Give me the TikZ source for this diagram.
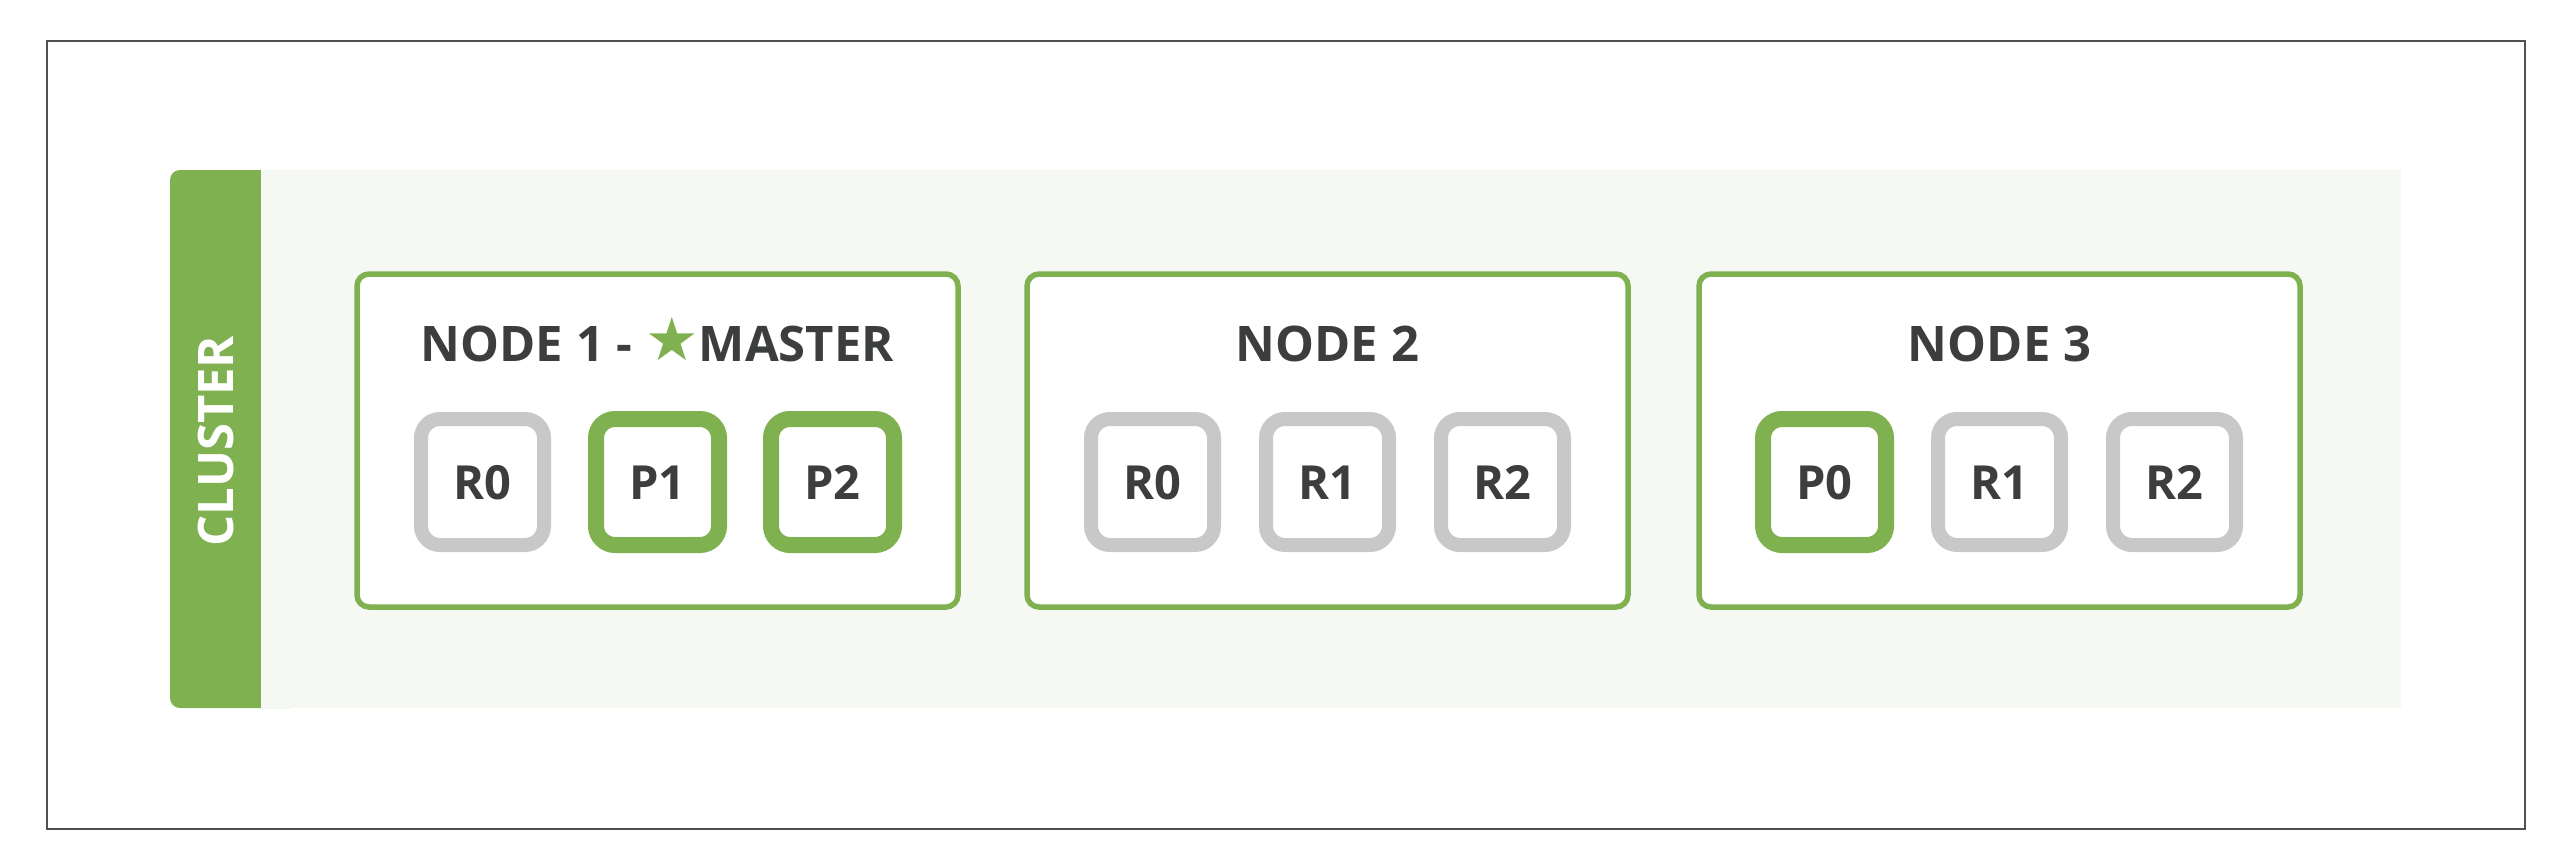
\documentclass[tikz,border=0pt]{standalone}
\usepackage{fontspec}
\setmainfont{Open Sans}
\newfontfamily\symfont{DejaVu Sans}
\definecolor{esgreen}{HTML}{7FB151}
\definecolor{esgray}{HTML}{C8C8C8}
\definecolor{estext}{HTML}{3B3D3E}
\definecolor{esbg}{HTML}{F6F8F3}
\definecolor{frameline}{HTML}{505050}
\begin{document}
\begin{tikzpicture}[x=1pt,y=-1pt,
  nodebox/.style={draw=esgreen, line width=5.5pt, rounded corners=12pt, fill=white,
    minimum width=601pt, minimum height=333pt, inner sep=0pt},
  titletext/.style={text=estext, font=\fontsize{49}{58}\bfseries, anchor=base, inner sep=0pt},
  shard/.style={fill=white, rounded corners=19pt, minimum width=123pt, minimum height=126pt,
    inner sep=0pt, text height=35pt, text depth=0pt, text=estext, font=\fontsize{47}{54}\bfseries},
  primary/.style={shard, draw=esgreen, line width=16pt},
  replica/.style={shard, draw=esgray, line width=14pt},
]
\useasboundingbox (0,0) rectangle (2558,848);
\fill[white] (0,0) rectangle (2558,848);
\draw[frameline, line width=2pt] (47,41) rectangle (2525,829);

% cluster area
\fill[esgreen, rounded corners=10pt] (170,170) rectangle (300,708);
\fill[esbg] (261,170) rectangle (2401,708);
\node[rotate=90, text=white, font=\fontsize{49}{58}\bfseries, inner sep=0pt] (cluster) at (216,441) {CLUSTER};

% nodes
\node[nodebox] (n1) at (657.5,440.5) {};
\node[nodebox] (n2) at (1327.5,440.5) {};
\node[nodebox] (n3) at (1999.5,440.5) {};

\node[titletext] (t1) at (657.5,361) {NODE 1 - {\symfont\color{esgreen}\raisebox{1pt}{\scalebox{1.22}{★}}}MASTER};
\node[titletext] (t2) at (1327.5,361) {NODE 2};
\node[titletext] (t3) at (1999.5,361) {NODE 3};

% shards node 1
\node[replica] (n1r0) at (482.5,482) {R0};
\node[primary] (n1p1) at (657.5,482) {P1};
\node[primary] (n1p2) at (832.5,482) {P2};
% shards node 2
\node[replica] (n2r0) at (1152.5,482) {R0};
\node[replica] (n2r1) at (1327.5,482) {R1};
\node[replica] (n2r2) at (1502.5,482) {R2};
% shards node 3
\node[primary] (n3p0) at (1824.5,482) {P0};
\node[replica] (n3r1) at (1999.5,482) {R1};
\node[replica] (n3r2) at (2174.5,482) {R2};
\end{tikzpicture}
\end{document}
